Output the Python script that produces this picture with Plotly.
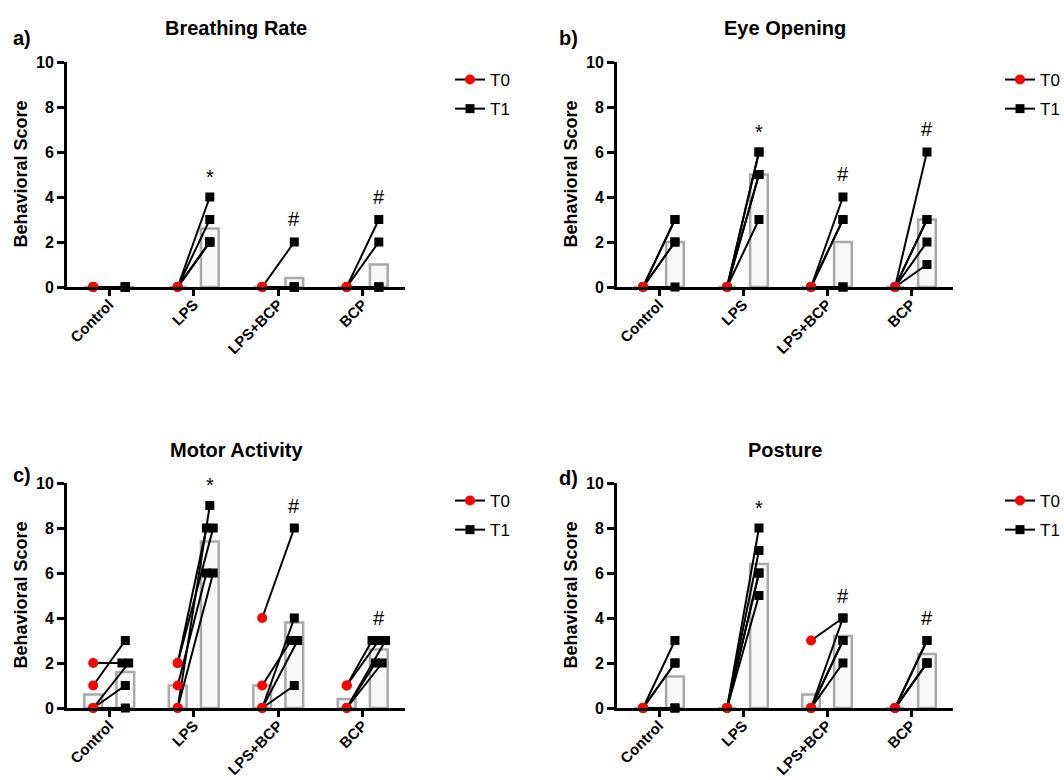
import plotly.graph_objects as go
from plotly.subplots import make_subplots

# ---------------- data ----------------
groups = ["Control", "LPS", "LPS+BCP", "BCP"]
titles = ["Breathing Rate", "Eye Opening", "Motor Activity", "Posture"]
panel_labels = ["a)", "b)", "c)", "d)"]
sig_marks = ["", "*", "#", "#"]

# each list: 4 groups x 5 animals (paired T0 -> T1)
breathing_t0 = [[0, 0, 0, 0, 0], [0, 0, 0, 0, 0], [0, 0, 0, 0, 0], [0, 0, 0, 0, 0]]
breathing_t1 = [[0, 0, 0, 0, 0], [4, 3, 2, 2, 2], [2, 0, 0, 0, 0], [3, 2, 0, 0, 0]]

eye_t0 = [[0, 0, 0, 0, 0], [0, 0, 0, 0, 0], [0, 0, 0, 0, 0], [0, 0, 0, 0, 0]]
eye_t1 = [[3, 3, 2, 2, 0], [6, 6, 5, 5, 3], [4, 3, 3, 0, 0], [6, 3, 3, 2, 1]]

motor_t0 = [[2, 1, 0, 0, 0], [0, 2, 1, 2, 0], [4, 1, 0, 0, 0], [1, 1, 0, 0, 0]]
motor_t1 = [[2, 3, 2, 1, 0], [9, 8, 6, 8, 6], [8, 3, 4, 3, 1], [3, 3, 3, 2, 2]]

posture_t0 = [[0, 0, 0, 0, 0], [0, 0, 0, 0, 0], [3, 0, 0, 0, 0], [0, 0, 0, 0, 0]]
posture_t1 = [[3, 2, 2, 0, 0], [8, 7, 6, 6, 5], [4, 4, 3, 3, 2], [3, 3, 2, 2, 2]]

panels_t0 = [breathing_t0, eye_t0, motor_t0, posture_t0]
panels_t1 = [breathing_t1, eye_t1, motor_t1, posture_t1]
panel_jitter = [False, False, True, False]

y_ticks = [0, 2, 4, 6, 8, 10]

# ---------------- layout helpers ----------------
W, H = 1064, 780
FONT = "Liberation Sans, Arial, Helvetica, sans-serif"
# pixel boxes (x0, x1, ytop, ybottom)
boxes = [(67, 405, 62, 287), (617, 953, 62, 287), (67, 405, 483, 708), (617, 953, 483, 708)]
title_y = [28, 28, 450, 450]
label_pos = [(22, 38), (568, 38), (22, 475), (568, 478)]
legend_pos = [(450, 62), (1000, 62), (450, 483), (1000, 483)]


def px(x):
    return x / W


def py(y):
    return 1 - y / H


OFF = 0.19
BW = 0.21
RED = "#ff0000"
BAR_LINE = "#a9a9a9"
BAR_FILL = "#f8f8f8"

fig = make_subplots(rows=2, cols=2)
annotations = []

for p in range(4):
    row, col = p // 2 + 1, p % 2 + 1
    t0s, t1s = panels_t0[p], panels_t1[p]
    legend_name = "legend" if p == 0 else f"legend{p + 1}"

    # bars (means)
    xb0 = [g - OFF for g in range(len(groups))]
    xb1 = [g + OFF for g in range(len(groups))]
    m0 = [sum(v) / len(v) for v in t0s]
    m1 = [sum(v) / len(v) for v in t1s]
    for xb, m in ((xb0, m0), (xb1, m1)):
        fig.add_trace(go.Bar(x=xb, y=m, width=BW, marker=dict(color=BAR_FILL, line=dict(color=BAR_LINE, width=2.5)),
                             showlegend=False, hoverinfo="skip"), row=row, col=col)

    # paired lines
    lx, ly, x0p, y0p, x1p, y1p = [], [], [], [], [], []
    for g in range(len(groups)):
        v0, v1 = t0s[g], t1s[g]
        # jitter for duplicated T1 values (computed)
        jit = [0.0] * len(v1)
        if panel_jitter[p]:
            for val in set(v1):
                idx = [i for i, v in enumerate(v1) if v == val]
                n = len(idx)
                for k, i in enumerate(idx):
                    jit[i] = (k - (n - 1) / 2) * 0.08
        for a, b, j in zip(v0, v1, jit):
            xa, xb_ = g - OFF, g + OFF + j
            lx += [xa, xb_, None]
            ly += [a, b, None]
            x0p += [xa, None]
            y0p += [a, None]
            x1p += [xb_, None]
            y1p += [b, None]
    fig.add_trace(go.Scatter(x=lx, y=ly, mode="lines", line=dict(color="black", width=2),
                             showlegend=False, hoverinfo="skip", cliponaxis=False), row=row, col=col)
    fig.add_trace(go.Scatter(x=x0p, y=y0p, mode="lines+markers", name="T0", legend=legend_name, legendgroup="T0",
                             line=dict(color="black", width=2), connectgaps=False,
                             marker=dict(symbol="circle", size=10, color=RED),
                             cliponaxis=False), row=row, col=col)
    fig.add_trace(go.Scatter(x=x1p, y=y1p, mode="lines+markers", name="T1", legend=legend_name, legendgroup="T1",
                             line=dict(color="black", width=2), connectgaps=False,
                             marker=dict(symbol="square", size=9, color="black"),
                             cliponaxis=False), row=row, col=col)

    # significance marks
    xref = "x" if p == 0 else f"x{p + 1}"
    yref = "y" if p == 0 else f"y{p + 1}"
    for g, s in enumerate(sig_marks):
        if not s:
            continue
        top = max(t1s[g])
        annotations.append(dict(x=g + OFF, y=top + (0.9 if s == "*" else 1.0), xref=xref, yref=yref, text=s,
                                showarrow=False, font=dict(family=FONT, size=20, color="black"),
                                xanchor="center", yanchor="middle"))

    x0, x1, yt, yb = boxes[p]
    ax = dict(domain=[px(x0), px(x1)], range=[-0.5, len(groups) - 0.5], tickmode="array",
              tickvals=list(range(len(groups))), ticktext=groups, tickangle=-45,
              ticks="outside", ticklen=6, tickwidth=3, tickcolor="black", automargin=False,
              ticklabelstandoff=-6,
              showline=True, linewidth=3, linecolor="black", showgrid=False, zeroline=False,
              tickfont=dict(family=FONT, size=15, color="black", weight="bold"), fixedrange=True)
    ay = dict(domain=[py(yb), py(yt)], range=[0, 10], tickmode="array", tickvals=y_ticks,
              ticks="outside", ticklen=7, tickwidth=3, tickcolor="black", automargin=False,
              showline=True, linewidth=3, linecolor="black", showgrid=False, zeroline=False,
              tickfont=dict(family=FONT, size=16, color="black", weight="bold"), fixedrange=True)
    fig.update_xaxes(ax, row=row, col=col)
    fig.update_yaxes(ay, row=row, col=col)

    # titles, panel labels, y-axis title
    annotations.append(dict(x=px((x0 + x1) / 2), y=py(title_y[p]), xref="paper", yref="paper", text=titles[p],
                            showarrow=False, xanchor="center", yanchor="middle",
                            font=dict(family=FONT, size=20, color="black", weight="bold")))
    lxp, lyp = label_pos[p]
    annotations.append(dict(x=px(lxp), y=py(lyp), xref="paper", yref="paper", text=panel_labels[p],
                            showarrow=False, xanchor="center", yanchor="middle",
                            font=dict(family=FONT, size=20, color="black", weight="bold")))
    annotations.append(dict(x=px(x0 - 47), y=py((yt + yb) / 2), xref="paper", yref="paper",
                            text="Behavioral Score", textangle=-90, showarrow=False,
                            xanchor="center", yanchor="middle",
                            font=dict(family=FONT, size=18, color="black", weight="bold")))

legends = {}
for p in range(4):
    key = "legend" if p == 0 else f"legend{p + 1}"
    lx_, ly_ = legend_pos[p]
    legends[key] = dict(x=px(lx_), y=py(ly_), xanchor="left", yanchor="top", bgcolor="rgba(0,0,0,0)",
                        font=dict(family=FONT, size=17, color="black"), tracegroupgap=4,
                        itemclick=False, itemdoubleclick=False)

fig.update_layout(width=W, height=H, margin=dict(l=0, r=0, t=0, b=0, autoexpand=False),
                  paper_bgcolor="white", plot_bgcolor="white", barmode="overlay", annotations=annotations,
                  font=dict(family=FONT, color="black"), **legends)

fig.write_html("out.html")
